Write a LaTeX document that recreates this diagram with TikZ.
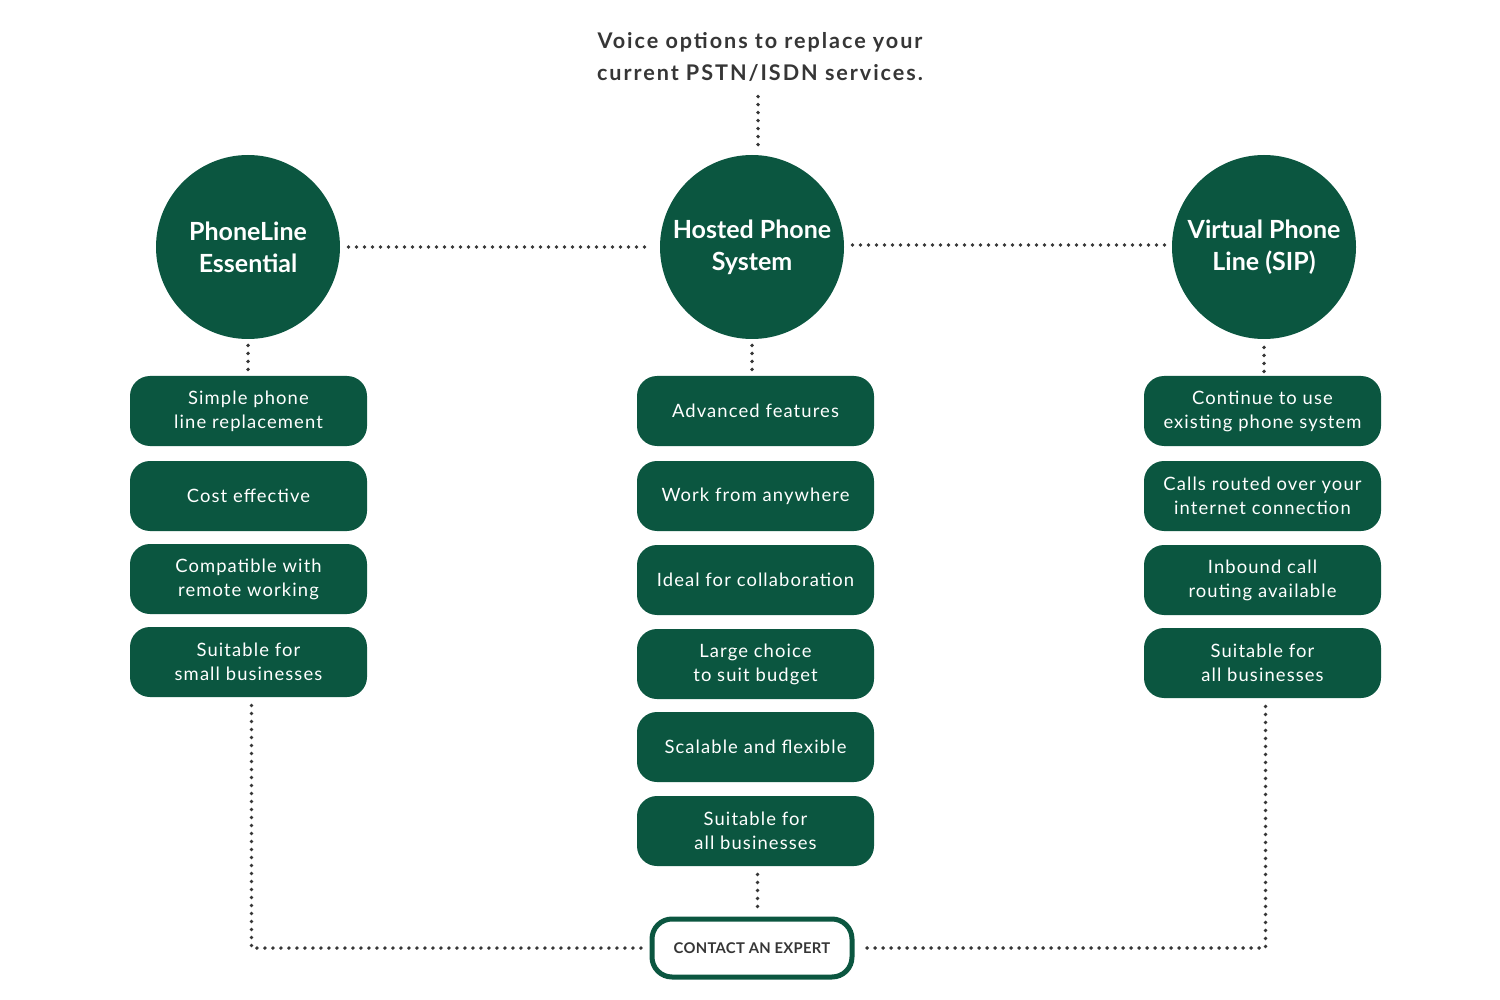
\documentclass[tikz,border=0pt]{standalone}
\usepackage{fontspec}
\setmainfont{Lato}[LetterSpace=6]
\newfontfamily\headfont{Lato}[LetterSpace=0]
\newfontfamily\titlefont{Lato}[LetterSpace=9]
\newfontfamily\btnfont{Lato}[LetterSpace=2]
\usetikzlibrary{positioning}
\definecolor{bgreen}{HTML}{0B5640}
\definecolor{dotgrey}{HTML}{363636}
\tikzset{
  circ/.style={circle, fill=bgreen, minimum size=92pt, inner sep=0pt,
    text=white, font=\headfont\fontsize{12.5}{16}\selectfont\bfseries, align=center},
  item/.style={rounded corners=10pt, fill=bgreen, minimum width=118.5pt,
    minimum height=35pt, inner sep=0pt, text=white,
    font=\fontsize{9.2}{12}\selectfont, align=center},
  contact/.style={rounded corners=10pt, draw=bgreen, line width=2.5pt, fill=white,
    minimum width=100pt, minimum height=29pt, inner sep=0pt, text=dotgrey,
    font=\btnfont\fontsize{7.4}{9}\selectfont\bfseries},
  dots/.style={dotgrey, line width=1.9pt, line cap=round, dash pattern=on 0pt off 4pt}
}
\begin{document}
\begin{tikzpicture}[x=0.5pt,y=-0.5pt]
\useasboundingbox (0,0) rectangle (1500,1000);
% title
\node[text=dotgrey, font=\titlefont\fontsize{10.8}{16}\selectfont\bfseries, align=center] (title) at (760,57)
  {Voice options to replace your\\current PSTN/ISDN services.};
% the three options
\node[circ] (phoneline) at (248,247) {PhoneLine\\Essential};
\node[circ] (hosted) at (752,247) {Hosted Phone\\System};
\node[circ] (virtual) at (1264,247) {Virtual Phone\\Line (SIP)};
% left column
\node[item] (l1) at (248.5,411) {Simple phone\\line replacement};
\node[item] (l2) at (248.5,496) {Cost effective};
\node[item] (l3) at (248.5,579) {Compatible with\\remote working};
\node[item] (l4) at (248.5,662) {Suitable for\\small businesses};
% middle column
\node[item] (m1) at (755.5,411) {Advanced features};
\node[item] (m2) at (755.5,496) {Work from anywhere};
\node[item] (m3) at (755.5,580) {Ideal for collaboration};
\node[item] (m4) at (755.5,664) {Large choice\\to suit budget};
\node[item] (m5) at (755.5,747) {Scalable and flexible};
\node[item] (m6) at (755.5,831) {Suitable for\\all businesses};
% right column
\node[item] (r1) at (1262.5,411) {Continue to use\\existing phone system};
\node[item] (r2) at (1262.5,496) {Calls routed over your\\internet connection};
\node[item] (r3) at (1262.5,580) {Inbound call\\routing available};
\node[item] (r4) at (1262.5,663) {Suitable for\\all businesses};
% contact button
\node[contact] (expert) at (752,948) {CONTACT AN EXPERT};
% dotted links
\draw[dots] ([xshift=-1pt,yshift=-4pt]title.south) -- ([xshift=-1pt,yshift=4pt]title.south |- hosted.north);
\draw[dots] ([xshift=4pt]phoneline.east) -- ([xshift=-4pt]hosted.west);
\draw[dots] ([xshift=4pt,yshift=1pt]hosted.east) -- ([xshift=-2pt,yshift=1pt]virtual.west);
\draw[dots] ([yshift=-3pt]phoneline.south) -- ([yshift=3pt]phoneline.south |- l1.north);
\draw[dots] ([yshift=-3pt]hosted.south) -- ([yshift=3pt]hosted.south |- m1.north);
\draw[dots] ([yshift=-4pt]virtual.south) -- ([yshift=2pt]virtual.south |- r1.north);
\draw[dots] ([xshift=1pt,yshift=-4pt]m6.south) -- ([xshift=1pt,yshift=4pt]m6.south |- expert.north);
\draw[dots] ([xshift=1.5pt,yshift=-4pt]l4.south) |- ([xshift=-4pt]expert.west);
\draw[dots] ([xshift=1.5pt,yshift=-4pt]r4.south) |- ([xshift=4pt]expert.east);
\end{tikzpicture}
\end{document}
